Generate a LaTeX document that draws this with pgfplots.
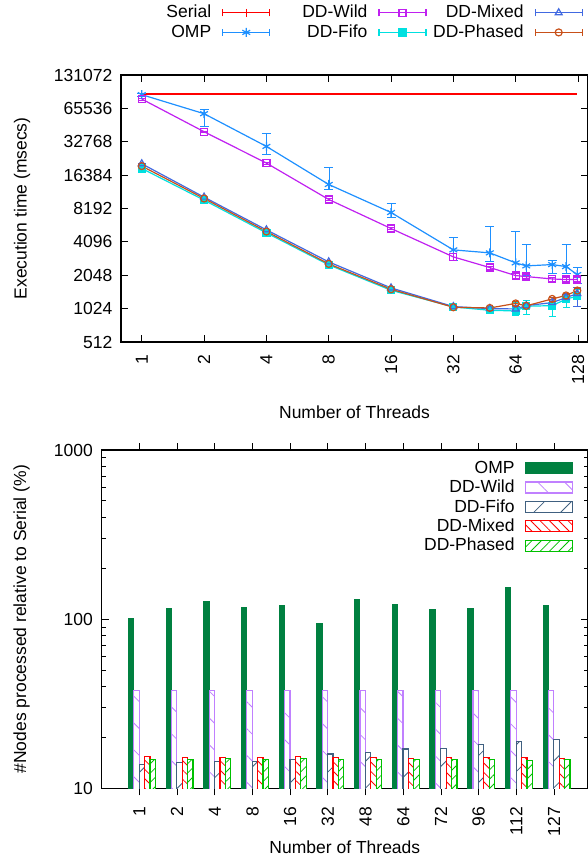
\documentclass[border=0pt]{standalone}
\usepackage{pgfplots}
\pgfplotsset{compat=1.18}
\usetikzlibrary{patterns.meta}
\usepackage{fontspec}
\setmainfont{Liberation Sans}
\definecolor{cSerial}{RGB}{255,0,0}
\definecolor{cOMP}{RGB}{30,144,255}
\definecolor{cWild}{RGB}{192,32,240}
\definecolor{cFifo}{RGB}{0,224,224}
\definecolor{cMixed}{RGB}{65,105,225}
\definecolor{cPhased}{RGB}{200,80,25}
\definecolor{bOMP}{RGB}{0,128,64}
\definecolor{bWild}{RGB}{192,128,255}
\definecolor{bFifo}{RGB}{64,96,128}
\definecolor{bMixed}{RGB}{255,0,0}
\definecolor{bPhased}{RGB}{0,192,0}
\newcommand\lstrut{\rule{0pt}{13bp}\rule[-4bp]{0pt}{4bp}}
\pgfplotsset{
  common/.style={
    scale only axis,
    axis line style={line width=1.2bp, black},
    tick style={line width=0.9bp, black},
    tick align=inside,
    major tick length=7bp,
    minor tick length=4bp,
    /pgf/number format/assume math mode=true,
    xticklabel style={rotate=90, anchor=east, inner sep=0pt},
    yticklabel style={anchor=east, inner sep=0pt},
    legend cell align=right, legend plot pos=right,
  },
  sSerial/.style={color=cSerial, line width=1.2bp, mark=+, mark size=4bp},
  sOMP/.style={color=cOMP, line width=1.2bp, mark=asterisk, mark size=4.5bp},
  sWild/.style={color=cWild, line width=1.2bp, mark=square, mark size=3.5bp},
  sFifo/.style={color=cFifo, line width=1.2bp, mark=square*, mark size=3.5bp},
  sMixed/.style={color=cMixed, line width=1.2bp, mark=triangle, mark size=4bp},
  sPhased/.style={color=cPhased, line width=1.2bp, mark=o, mark size=3.5bp},
  eb/.style={error bars/.cd, y dir=both, y explicit},
}
\begin{document}
\fontsize{17.5bp}{20bp}\selectfont
\begin{tikzpicture}
% ---------------- top panel ----------------
\begin{axis}[common,
  at={(121bp,516bp)}, anchor=south west,
  width=467bp, height=267bp,
  xmode=log, ymode=log, log basis x=2, log basis y=2,
  xmin=0.794, xmax=143.05, ymin=512, ymax=131072,
  xtick={1,2,4,8,16,32,64,128}, xticklabels={1,2,4,8,16,32,64,128},
  ytick={512,1024,2048,4096,8192,16384,32768,65536,131072},
  yticklabels={512,1024,2048,4096,8192,16384,32768,65536,131072},
  xminorticks=false, yminorticks=false,
  xticklabel shift=13bp, yticklabel shift=8.5bp,
  xlabel={Number of Threads}, ylabel={Execution time (msecs)},
  every axis x label/.style={at={([yshift=-70bp]rel axis cs:0.5,0)}, anchor=center},
  every axis y label/.style={at={([xshift=-99bp]rel axis cs:0,0.5)}, rotate=90, anchor=center},
  legend columns=3,
  legend style={draw=none, fill=none, at={([yshift=70.2bp]rel axis cs:1,1)}, anchor=north east,
    inner sep=0pt, column sep=0pt, row sep=4bp, nodes={inner sep=0pt}},
  legend image code/.code={
    \path (-11bp,0bp) (52bp,0bp);
    \draw[#1, mark=none] (0bp,-3.5bp) -- (0bp,3.5bp) (47bp,-3.5bp) -- (47bp,3.5bp) (0bp,0bp) -- (47bp,0bp);
    \draw[#1] plot coordinates {(23.5bp,0bp)};
  },
]
\addplot[sSerial, mark=none, forget plot] coordinates {(1,88290) (127,88290)};
\addplot[sOMP, forget plot, eb] coordinates {
 (1,87080) += (0,2000) -= (0,2000)
 (2,58660) += (0,5960) -= (0,13280)
 (4,29740) += (0,9230) -= (0,4380)
 (8,13490) += (0,5990) -= (0,1330)
 (16,7537) += (0,1680) -= (0,650)
 (32,3468) += (0,1080) -= (0,670)
 (48,3258) += (0,2415) -= (0,518)
 (64,2647) += (0,2466) -= (0,527)
 (72,2486) += (0,1389) -= (0,438)
 (96,2556) += (0,242) -= (0,436)
 (112,2452) += (0,1423) -= (0,332)
 (127,2077) += (0,325) -= (0,331)
};
\addplot[sWild, forget plot, eb] coordinates {
 (1,79570) += (0,1500) -= (0,1500)
 (2,40340) += (0,800) -= (0,800)
 (4,21030) += (0,400) -= (0,400)
 (8,9880) += (0,200) -= (0,200)
 (16,5405) += (0,100) -= (0,100)
 (32,2998) += (0,250) -= (0,200)
 (48,2402) += (0,80) -= (0,80)
 (64,2034) += (0,90) -= (0,90)
 (72,1992) += (0,80) -= (0,80)
 (96,1897) += (0,80) -= (0,80)
 (112,1871) += (0,80) -= (0,80)
 (127,1871) += (0,80) -= (0,80)
};
\addplot[sFifo, forget plot, eb] coordinates {
 (1,18820) += (0,300) -= (0,300)
 (2,9742) += (0,150) -= (0,150)
 (4,4940) += (0,80) -= (0,80)
 (8,2540) += (0,40) -= (0,40)
 (16,1499) += (0,30) -= (0,30)
 (32,1060) += (0,40) -= (0,40)
 (48,989) += (0,40) -= (0,40)
 (64,975) += (0,200) -= (0,85)
 (72,1075) += (0,143) -= (0,171)
 (96,1090) += (0,200) -= (0,210)
 (112,1245) += (0,150) -= (0,200)
 (127,1330) += (0,200) -= (0,250)
};
\addplot[sMixed, forget plot, eb] coordinates {
 (1,20740) += (0,300) -= (0,300)
 (2,10370) += (0,150) -= (0,150)
 (4,5257) += (0,80) -= (0,80)
 (8,2703) += (0,40) -= (0,40)
 (16,1574) += (0,30) -= (0,30)
 (32,1068) += (0,30) -= (0,30)
 (48,1024) += (0,30) -= (0,30)
 (64,1017) += (0,60) -= (0,60)
 (72,1090) += (0,60) -= (0,60)
 (96,1160) += (0,80) -= (0,80)
 (112,1287) += (0,100) -= (0,120)
 (127,1399) += (0,200) -= (0,320)
};
\addplot[sPhased, forget plot, eb] coordinates {
 (1,19760) += (0,300) -= (0,300)
 (2,10085) += (0,150) -= (0,150)
 (4,5079) += (0,80) -= (0,80)
 (8,2593) += (0,40) -= (0,40)
 (16,1531) += (0,30) -= (0,30)
 (32,1053) += (0,30) -= (0,30)
 (48,1038) += (0,30) -= (0,30)
 (64,1140) += (0,50) -= (0,50)
 (72,1085) += (0,50) -= (0,50)
 (96,1252) += (0,50) -= (0,50)
 (112,1345) += (0,60) -= (0,60)
 (127,1490) += (0,60) -= (0,60)
};
\addlegendimage{sSerial}\addlegendentry{\makebox[92bp][r]{\lstrut Serial}}
\addlegendimage{sWild}\addlegendentry{\makebox[92bp][r]{\lstrut DD-Wild}}
\addlegendimage{sMixed}\addlegendentry{\makebox[92bp][r]{\lstrut DD-Mixed}}
\addlegendimage{sOMP}\addlegendentry{\makebox[92bp][r]{\lstrut OMP}}
\addlegendimage{sFifo}\addlegendentry{\makebox[92bp][r]{\lstrut DD-Fifo}}
\addlegendimage{sPhased}\addlegendentry{\makebox[92bp][r]{\lstrut DD-Phased}}
\end{axis}
% ---------------- bottom panel ----------------
\begin{axis}[common,
  at={(101.7bp,69.5bp)}, anchor=south west,
  width=486.3bp, height=338.5bp,
  ymode=log, ymin=10, ymax=1000,
  xmin=0, xmax=12.9,
  xtick={1,2,3,4,5,6,7,8,9,10,11,12},
  xticklabels={1,2,4,8,16,32,48,64,72,96,112,127},
  ytick={10,100,1000}, yticklabels={10,100,1000},
  minor ytick={20,30,40,50,60,70,80,90,200,300,400,500,600,700,800,900},
  xminorticks=false,
  xticklabel shift=11.5bp, yticklabel shift=8.7bp,
  xlabel={Number of Threads}, ylabel={\#Nodes processed relative to Serial (\%)},
  every axis x label/.style={at={([yshift=-59bp]rel axis cs:0.5,0)}, anchor=center},
  every axis y label/.style={at={([xshift=-80bp]rel axis cs:0,0.5)}, rotate=90, anchor=center},
  ybar, bar width=5.4bp,
  legend style={draw=none, fill=none, at={([xshift=-15bp,yshift=-10bp]rel axis cs:1,1)}, anchor=north east,
    inner sep=0pt, column sep=0pt, row sep=3.8bp, nodes={inner sep=0pt}},
  legend image code/.code={
    \path (-10bp,0bp) (47bp,0bp);
    \draw[#1] (0bp,-5.5bp) rectangle (47bp,5.5bp);
  },
]
\addplot[draw=bOMP, fill=bOMP, line width=1bp, bar shift=-8.3bp] coordinates {
 (1,101) (2,116) (3,127) (4,117) (5,121) (6,94) (7,130) (8,122) (9,114) (10,115) (11,154) (12,120)};
\addlegendentry{\lstrut OMP}
\addplot[draw=bWild, fill=white, line width=1.2bp, bar shift=-2.9bp,
  postaction={pattern color=bWild, pattern={Lines[angle=-45,distance=19bp,line width=0.8bp]}}] coordinates {
 (1,38.1) (2,38.1) (3,38.1) (4,38.1) (5,38.1) (6,38.1) (7,38.1) (8,38.1) (9,38.1) (10,38.1) (11,38.1) (12,38.1)};
\addlegendentry{\lstrut DD-Wild}
\addplot[draw=bFifo, fill=white, line width=1.2bp, bar shift=2.5bp,
  postaction={pattern color=bFifo, pattern={Lines[angle=45,distance=19bp,line width=0.8bp]}}] coordinates {
 (1,13.8) (2,14.3) (3,14.5) (4,14.4) (5,14.9) (6,16.0) (7,16.4) (8,17.1) (9,17.3) (10,18.1) (11,18.9) (12,19.5)};
\addlegendentry{\lstrut DD-Fifo}
\addplot[draw=bMixed, fill=white, line width=1.2bp, bar shift=7.9bp,
  postaction={pattern color=bMixed, pattern={Lines[angle=-45,distance=6.6bp,line width=0.8bp]}}] coordinates {
 (1,15.5) (2,15.3) (3,15.3) (4,15.3) (5,15.4) (6,15.3) (7,15.3) (8,15.1) (9,15.2) (10,15.3) (11,15.2) (12,15.1)};
\addlegendentry{\lstrut DD-Mixed}
\addplot[draw=bPhased, fill=white, line width=1.2bp, bar shift=13.3bp,
  postaction={pattern color=bPhased, pattern={Lines[angle=45,distance=6.6bp,line width=0.8bp]}}] coordinates {
 (1,14.8) (2,14.9) (3,15.0) (4,14.8) (5,15.1) (6,14.9) (7,14.9) (8,14.8) (9,14.9) (10,14.9) (11,14.6) (12,14.9)};
\addlegendentry{\lstrut DD-Phased}
\end{axis}
\pgfresetboundingbox
\path (0,0) rectangle (588bp,858bp);
\end{tikzpicture}
\end{document}
